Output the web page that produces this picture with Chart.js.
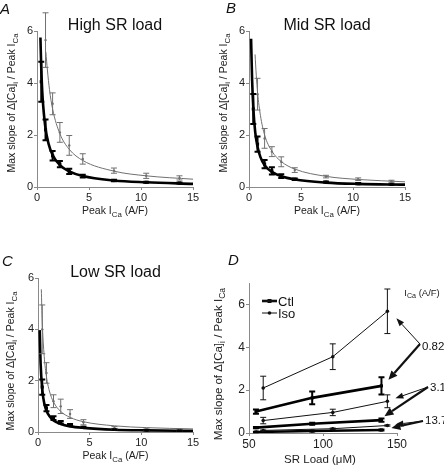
<!DOCTYPE html>
<html>
<head>
<meta charset="utf-8">
<script src="https://cdn.jsdelivr.net/npm/chart.js@4.4.1/dist/chart.umd.min.js"></script>
<style>
  body { margin: 0; background: #fff; }
  #page { position: relative; width: 444px; height: 467px; overflow: hidden; }
  .panel { position: absolute; }
</style>
</head>
<body>
<div id="page">
  <div class="panel" style="left:0;top:0;width:222px;height:233px"><canvas id="chartA"></canvas></div>
  <div class="panel" style="left:208px;top:0;width:236px;height:233px"><canvas id="chartB"></canvas></div>
  <div class="panel" style="left:0;top:233px;width:222px;height:234px"><canvas id="chartC"></canvas></div>
  <div class="panel" style="left:205px;top:233px;width:239px;height:234px"><canvas id="chartD"></canvas></div>
</div>
<script>
// Peak ICa (A/F) at which slopes were measured
const peakICa = [0.41, 0.82, 1.5, 2.2, 3.1, 4.4, 7.4, 10.5, 13.7];

// A: high SR load (black = Ctl, grey = Iso)
const highCtl    = [4.05, 2.2, 1.2, 0.88, 0.6, 0.42, 0.25, 0.18, 0.15];
const highCtlErr = [0.77, 0.4, 0.18, 0.12, 0.1, 0.05, 0.03, 0.02, 0.02];
const highIso    = [null, 5.65, 3.2, 2.1, 1.6, 1.08, 0.63, 0.43, 0.35];
const highIsoErr = [null, 1.05, 0.42, 0.38, 0.38, 0.2, 0.1, 0.1, 0.08];
const highCtlFitX = [0.33, 0.4, 0.5, 0.6, 0.82, 1.1, 1.5, 2.2, 3.1, 4.4, 7.4, 10.5, 15];
const highCtlFitY = [5.75, 4.7, 3.7, 3.1, 2.25, 1.68, 1.23, 0.84, 0.6, 0.42, 0.25, 0.18, 0.12];
const highIsoFitX = [0.85, 1.0, 1.2, 1.5, 2.2, 3.1, 4.4, 7.4, 10.5, 15];
const highIsoFitY = [5.2, 4.5, 3.75, 3.0, 2.05, 1.45, 1.02, 0.61, 0.43, 0.3];

// B: mid SR load
const midCtl    = [3.0, 1.65, 0.88, 0.62, 0.42, 0.3, 0.19, 0.13, 0.1];
const midCtlErr = [0.58, 0.29, 0.16, 0.14, 0.07, 0.03, 0.02, 0.02, 0.01];
const midIso    = [null, 3.57, 1.87, 1.36, 0.97, 0.65, 0.4, 0.3, 0.22];
const midIsoErr = [null, 0.61, 0.38, 0.19, 0.19, 0.09, 0.05, 0.05, 0.04];
const midCtlFitX = [0.2, 0.3, 0.42, 0.6, 0.82, 1.1, 1.5, 2.2, 3.1, 4.4, 7.4, 10.5, 15];
const midCtlFitY = [5.7, 4.1, 3.0, 2.1, 1.55, 1.15, 0.84, 0.58, 0.41, 0.29, 0.17, 0.12, 0.09];
const midIsoFitX = [0.58, 0.7, 0.82, 1.1, 1.5, 2.2, 3.1, 4.4, 7.4, 10.5, 15];
const midIsoFitY = [5.1, 4.3, 3.65, 2.75, 2.0, 1.38, 0.98, 0.69, 0.41, 0.29, 0.2];

// C: low SR load
const lowCtl    = [1.75, 0.93, 0.54, 0.38, 0.27, 0.18, 0.1, 0.07, 0.05];
const lowCtlErr = [0.3, 0.12, 0.07, 0.05, 0.04, 0.02, 0.01, 0.01, 0.01];
const lowIso    = [4.0, 2.3, 1.2, 1.0, 0.7, 0.38, 0.15, 0.1, 0.08];
const lowIsoErr = [0.95, 0.4, 0.25, 0.28, 0.17, 0.1, 0.06, 0.05, 0.04];
const lowCtlFitX = [0.16, 0.25, 0.41, 0.6, 0.82, 1.1, 1.5, 2.2, 3.1, 4.4, 7.4, 10.5, 15];
const lowCtlFitY = [3.97, 2.7, 1.66, 1.13, 0.83, 0.62, 0.45, 0.31, 0.22, 0.16, 0.09, 0.065, 0.045];
const lowIsoFitX = [0.32, 0.41, 0.6, 0.82, 1.1, 1.5, 2.2, 3.1, 4.4, 7.4, 10.5, 15];
const lowIsoFitY = [5.56, 4.3, 2.95, 2.15, 1.6, 1.17, 0.8, 0.57, 0.4, 0.24, 0.17, 0.12];

// D: slope vs SR load, per ICa level
const icaLevels = ['0.82', '3.1', '13.7'];
const ctlLoad = [54.7, 92.7, 139.5];
const isoLoad = [59.6, 106.6, 143.5];
const ctlSlope    = [[1.0, 1.64, 2.2], [0.25, 0.43, 0.6], [0.05, 0.09, 0.14]];
const ctlSlopeErr = [[0.1, 0.3, 0.4], [0.03, 0.05, 0.08], [0.01, 0.015, 0.02]];
const isoSlope    = [[2.1, 3.56, 5.68], [0.58, 0.96, 1.48], [0.12, 0.2, 0.35]];
const isoSlopeErr = [[0.55, 0.6, 1.04], [0.15, 0.15, 0.3], [0.02, 0.03, 0.03]];

const FONT = "'Liberation Sans', Arial, Helvetica, sans-serif";
Chart.defaults.font.family = FONT;
Chart.defaults.color = '#222';
Chart.defaults.animation = false;
Chart.defaults.plugins.legend.display = false;
Chart.defaults.plugins.tooltip.enabled = false;

const GREY = '#707070';
const AXIS = '#8a8a8a';

function pts(xs, ys, errs) {
  return xs.map((x, i) => ({ x, y: ys[i], e: errs ? errs[i] : null })).filter(p => p.y != null);
}

// text with subscripts: parts = [[text, isSub], ...]
function rich(ctx, parts, x, y, size, color) {
  const widths = parts.map(([t, s]) => { ctx.font = (s ? size * 0.75 : size) + 'px ' + FONT; return ctx.measureText(t).width; });
  let cx = x - widths.reduce((a, b) => a + b, 0) / 2;
  ctx.fillStyle = color || '#222';
  ctx.textAlign = 'left';
  ctx.textBaseline = 'middle';
  parts.forEach(([t, s], i) => {
    ctx.font = (s ? size * 0.75 : size) + 'px ' + FONT;
    ctx.fillText(t, cx, s ? y + size * 0.32 : y);
    cx += widths[i];
  });
}

const Y_TITLE = [['Max slope of \u0394[Ca]', 0], ['i', 1], [' / Peak I', 0], ['Ca', 1]];
const X_TITLE_ICA = [['Peak I', 0], ['Ca', 1], [' (A/F)', 0]];

const errorBars = {
  id: 'errorBars',
  afterDatasetsDraw(chart) {
    const ctx = chart.ctx, ys = chart.scales.y;
    chart.data.datasets.forEach((ds, i) => {
      if (!ds.errLine) return;
      const meta = chart.getDatasetMeta(i);
      ctx.save();
      ctx.strokeStyle = ds.borderColor;
      ctx.lineWidth = ds.errLine;
      meta.data.forEach((el, j) => {
        const p = ds.data[j];
        if (p.e == null) return;
        const x = el.x, t = ys.getPixelForValue(p.y + p.e), b = ys.getPixelForValue(p.y - p.e);
        const c = ds.capHalf || 3;
        ctx.beginPath();
        ctx.moveTo(x, t); ctx.lineTo(x, b);
        ctx.moveTo(x - c, t); ctx.lineTo(x + c, t);
        ctx.moveTo(x - c, b); ctx.lineTo(x + c, b);
        ctx.stroke();
      });
      ctx.restore();
    });
  }
};

const panelText = {
  id: 'panelText',
  afterDraw(chart, args, o) {
    const ctx = chart.ctx, a = chart.chartArea;
    ctx.save();
    // panel letter
    ctx.font = 'italic 15px ' + FONT;
    ctx.fillStyle = '#111';
    ctx.textAlign = 'left';
    ctx.textBaseline = 'alphabetic';
    ctx.fillText(o.letter, o.letterX, o.letterY);
    // title
    if (o.title) {
      ctx.font = '16px ' + FONT;
      ctx.textAlign = 'center';
      ctx.textBaseline = 'middle';
      ctx.fillText(o.title, (a.left + a.right) / 2 + (o.titleDx || 0), a.top - 5);
    }
    // x title
    rich(ctx, o.xTitle, (a.left + a.right) / 2 + (o.xDx || 0), a.bottom + o.xDy, o.xSize);
    // y title
    ctx.translate(a.left - o.yDx, (a.top + a.bottom) / 2 + o.yDy);
    ctx.rotate(-Math.PI / 2);
    rich(ctx, Y_TITLE, 0, 0, o.ySize);
    ctx.restore();
  }
};

function axis(min, max, step, size, fitKey, fitVal) {
  return {
    type: 'linear', min, max,
    ticks: { stepSize: step, font: { size }, color: '#222', padding: 1, autoSkip: false, maxRotation: 0 },
    grid: { drawOnChartArea: false, drawTicks: true, tickLength: 3, color: AXIS },
    border: { display: true, color: AXIS, width: 1 },
    afterFit(s) { s[fitKey] = fitVal; },
    afterBuildTicks(s) { s.ticks = s.ticks.filter(t => Math.abs(t.value / step - Math.round(t.value / step)) < 1e-6); }
  };
}

function loadPanel(id, p) {
  return new Chart(document.getElementById(id), {
    type: 'scatter',
    data: {
      datasets: [
        { data: pts(p.isoFitX, p.isoFitY), showLine: true, borderColor: GREY, borderWidth: 1, pointRadius: 0, cubicInterpolationMode: 'monotone' },
        { data: pts(p.ctlFitX, p.ctlFitY), showLine: true, borderColor: '#000', borderWidth: 2.6, pointRadius: 0, cubicInterpolationMode: 'monotone' },
        { data: pts(peakICa, p.iso, p.isoErr), borderColor: GREY, backgroundColor: GREY, pointRadius: 1.2, pointBorderWidth: 0, errLine: 1, capHalf: 3 },
        { data: pts(peakICa, p.ctl, p.ctlErr), borderColor: '#000', backgroundColor: '#000', pointStyle: 'rect', pointRadius: 2.2, pointBorderWidth: 0, errLine: 2, capHalf: 3 }
      ]
    },
    options: {
      responsive: true, maintainAspectRatio: false,
      layout: { padding: { left: 0, top: p.top, right: p.right, bottom: 0 } },
      scales: {
        x: axis(0, 15, 5, 11, 'height', p.xh),
        y: axis(0, 6, 2, 11, 'width', p.yw)
      },
      plugins: {
        panelText: { letter: p.letter, letterX: p.letterX, letterY: p.letterY, title: p.title,
          xTitle: X_TITLE_ICA, xDy: 24, xSize: 10.5, yDx: p.yDx, yDy: p.yDy, ySize: 10.5 }
      }
    },
    plugins: [errorBars, panelText]
  });
}

loadPanel('chartA', { ctl: highCtl, ctlErr: highCtlErr, iso: highIso, isoErr: highIsoErr,
  ctlFitX: highCtlFitX, ctlFitY: highCtlFitY, isoFitX: highIsoFitX, isoFitY: highIsoFitY,
  top: 31, right: 29, xh: 46, yw: 37, letter: 'A', letterX: 0, letterY: 14, title: 'High SR load',
  yDx: 25, yDy: -6 });
loadPanel('chartB', { ctl: midCtl, ctlErr: midCtlErr, iso: midIso, isoErr: midIsoErr,
  ctlFitX: midCtlFitX, ctlFitY: midCtlFitY, isoFitX: midIsoFitX, isoFitY: midIsoFitY,
  top: 31, right: 39, xh: 46, yw: 41, letter: 'B', letterX: 18, letterY: 13, title: 'Mid SR load',
  yDx: 25, yDy: -6 });
loadPanel('chartC', { ctl: lowCtl, ctlErr: lowCtlErr, iso: lowIso, isoErr: lowIsoErr,
  ctlFitX: lowCtlFitX, ctlFitY: lowCtlFitY, isoFitX: lowIsoFitX, isoFitY: lowIsoFitY,
  top: 45, right: 29, xh: 35, yw: 38, letter: 'C', letterX: 2, letterY: 33, title: 'Low SR load',
  yDx: 27, yDy: 6 });

// D: arrows from ICa labels to the last point of each series
const arrowsD = {
  id: 'arrowsD',
  afterDraw(chart, args, o) {
    const ctx = chart.ctx, xs = chart.scales.x, ys = chart.scales.y, a = chart.chartArea;
    ctx.save();
    ctx.fillStyle = '#111';
    ctx.strokeStyle = '#111';
    // header
    rich(ctx, [['I', 0], ['Ca', 1], [' (A/F)', 0]], a.right + 25, a.top + 10, 9.5);
    icaLevels.forEach((lab, k) => {
      const L = o.labels[k];
      const lx = a.right + L.dx, ly = a.top + L.dy;
      ctx.font = '11.5px ' + FONT;
      ctx.fillStyle = '#111';
      ctx.textAlign = 'left';
      ctx.textBaseline = 'middle';
      ctx.fillText(lab, lx, ly);
      // two arrows: Iso (thin), Ctl (thick)
      [[isoLoad, isoSlope[k], 1, L.iso], [ctlLoad, ctlSlope[k], 2.2, L.ctl]].forEach(([sx, sy, w, off]) => {
        const n = sx.length - 1;
        const tx = xs.getPixelForValue(sx[n]) + off[0], ty = ys.getPixelForValue(sy[n]) + off[1];
        const fx = lx - 2, fy = ly - L.tail;
        const ang = Math.atan2(ty - fy, tx - fx);
        const hl = w > 1 ? 9 : 8, hw = w > 1 ? 4 : 3;
        const bx = tx - hl * Math.cos(ang), by = ty - hl * Math.sin(ang);
        ctx.lineWidth = w;
        ctx.beginPath(); ctx.moveTo(fx, fy); ctx.lineTo(bx, by); ctx.stroke();
        ctx.beginPath();
        ctx.moveTo(tx, ty);
        ctx.lineTo(bx + hw * Math.sin(ang), by - hw * Math.cos(ang));
        ctx.lineTo(bx - hw * Math.sin(ang), by + hw * Math.cos(ang));
        ctx.closePath(); ctx.fill();
      });
    });
    // legend
    [['Ctl', 2.6, 'rect'], ['Iso', 1, 'circle']].forEach(([t, w, m], i) => {
      const y = a.top + 18 + i * 12, x0 = a.left + 13, x1 = a.left + 28;
      ctx.lineWidth = w;
      ctx.beginPath(); ctx.moveTo(x0, y); ctx.lineTo(x1, y); ctx.stroke();
      ctx.beginPath();
      if (m === 'rect') ctx.rect((x0 + x1) / 2 - 2, y - 2, 4, 4); else ctx.arc((x0 + x1) / 2, y, 1.8, 0, 2 * Math.PI);
      ctx.fill();
      ctx.font = '13px ' + FONT;
      ctx.textAlign = 'left';
      ctx.textBaseline = 'middle';
      ctx.fillText(t, x1 + 1, y + 1);
    });
    ctx.restore();
  }
};

const dSets = [];
icaLevels.forEach((lab, k) => {
  dSets.push({ data: pts(isoLoad, isoSlope[k], isoSlopeErr[k]), showLine: true, borderColor: '#111', backgroundColor: '#111',
    borderWidth: 1, pointRadius: 1.8, pointBorderWidth: 0, errLine: 1, capHalf: 3 });
  dSets.push({ data: pts(ctlLoad, ctlSlope[k], ctlSlopeErr[k]), showLine: true, borderColor: '#000', backgroundColor: '#000',
    borderWidth: 2.6, pointStyle: 'rect', pointRadius: 2.2, pointBorderWidth: 0, errLine: 2, capHalf: 3 });
});

new Chart(document.getElementById('chartD'), {
  type: 'scatter',
  data: { datasets: dSets },
  options: {
    responsive: true, maintainAspectRatio: false,
    layout: { padding: { left: 0, top: 50, right: 47, bottom: 0 } },
    scales: {
      x: axis(50, 150, 50, 12, 'height', 34),
      y: axis(0, 7, 2, 12, 'width', 44)
    },
    plugins: {
      panelText: { letter: 'D', letterX: 23, letterY: 32, title: null,
        xTitle: [['SR Load (\u03bcM)', 0]], xDy: 27, xDx: -3, xSize: 11.5, yDx: 30, yDy: 6, ySize: 11.5 },
      arrowsD: { labels: [
        { dx: 25, dy: 64, tail: 3, iso: [9, 7], ctl: [7, -6] },
        { dx: 33, dy: 105, tail: 1, iso: [8, -3], ctl: [3, -4] },
        { dx: 28, dy: 138, tail: 0, iso: [8, -1], ctl: [10, -2] }
      ] }
    }
  },
  plugins: [errorBars, panelText, arrowsD]
});
</script>
</body>
</html>
